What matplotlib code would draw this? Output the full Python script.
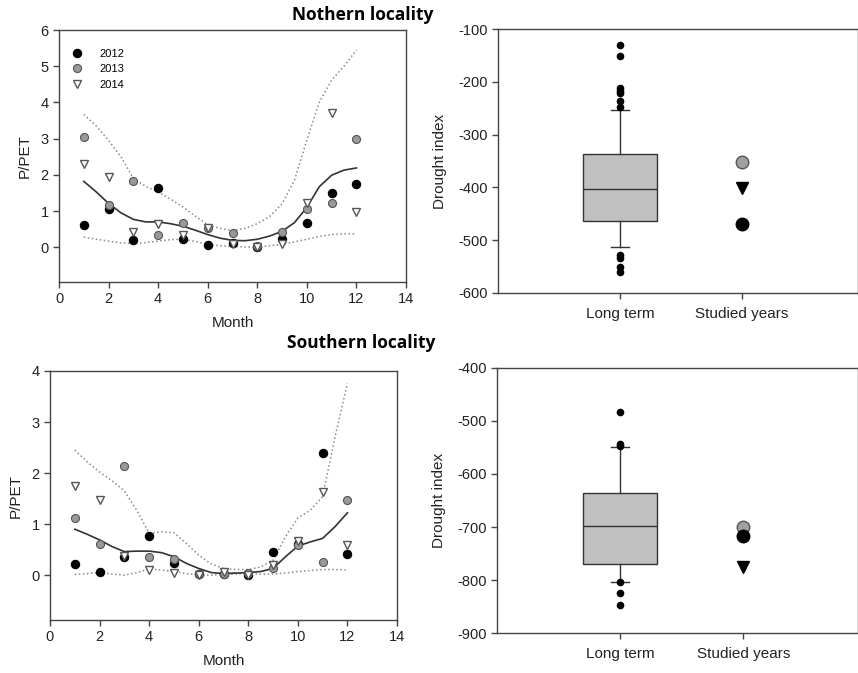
import matplotlib
matplotlib.use('Agg')
import matplotlib.pyplot as plt
import numpy as np

plt.rcParams['font.family'] = ['Liberation Sans', 'DejaVu Sans']
plt.rcParams['axes.unicode_minus'] = False

# ---- monthly P/PET, northern locality ----
months = [1, 2, 3, 4, 5, 6, 7, 8, 9, 10, 11, 12]
north_2012 = [0.61, 1.05, 0.19, 1.64, 0.23, 0.07, 0.12, 0.02, 0.24, 0.67, 1.51, 1.76]
north_2013 = [3.04, 1.16, 1.83, 0.33, 0.67, 0.53, 0.40, 0.03, 0.41, 1.07, 1.21, 2.99]
north_2014 = [2.31, 1.94, 0.41, 0.64, 0.33, 0.52, 0.09, 0.02, 0.10, 1.21, 3.71, 0.98]

# fitted curve and limits, read every half month
fit_months = [1, 1.5, 2, 2.5, 3, 3.5, 4, 4.5, 5, 5.5, 6, 6.5,
              7, 7.5, 8, 8.5, 9, 9.5, 10, 10.5, 11, 11.5, 12]
north_mean = [1.82, 1.53, 1.21, 0.95, 0.77, 0.70, 0.70, 0.65, 0.58, 0.47, 0.35, 0.25,
              0.19, 0.18, 0.22, 0.31, 0.44, 0.68, 1.10, 1.67, 1.99, 2.13, 2.19]
north_upper = [3.67, 3.35, 2.95, 2.50, 1.90, 1.68, 1.53, 1.33, 1.11, 0.86, 0.62, 0.52,
               0.46, 0.52, 0.65, 0.85, 1.20, 1.85, 2.96, 4.00, 4.62, 5.00, 5.45]
north_lower = [0.28, 0.22, 0.17, 0.12, 0.10, 0.13, 0.17, 0.21, 0.22, 0.16, 0.08, 0.04,
               0.02, 0.01, 0.00, 0.04, 0.08, 0.15, 0.22, 0.30, 0.35, 0.37, 0.37]

# ---- monthly P/PET, southern locality ----
south_2012 = [0.22, 0.07, 0.36, 0.76, 0.23, 0.02, 0.02, 0.00, 0.46, 0.60, 2.40, 0.41]
south_2013 = [1.11, 0.60, 2.14, 0.35, 0.32, 0.02, 0.02, 0.04, 0.13, 0.59, 0.26, 1.47]
south_2014 = [1.75, 1.47, 0.37, 0.10, 0.05, 0.00, 0.07, 0.00, 0.20, 0.67, 1.62, 0.59]

south_mean = [0.90, 0.80, 0.69, 0.56, 0.46, 0.47, 0.47, 0.44, 0.36, 0.23, 0.13, 0.05,
              0.03, 0.04, 0.05, 0.07, 0.13, 0.36, 0.57, 0.65, 0.72, 0.95, 1.22]
south_upper = [2.45, 2.22, 2.02, 1.85, 1.65, 1.27, 0.82, 0.85, 0.83, 0.62, 0.39, 0.22,
               0.13, 0.11, 0.11, 0.16, 0.29, 0.75, 1.12, 1.27, 1.54, 2.71, 3.76]
south_lower = [0.01, 0.03, 0.05, 0.02, 0.00, 0.05, 0.12, 0.10, 0.07, 0.03, 0.00, 0.00,
               0.01, 0.02, 0.03, 0.02, 0.02, 0.04, 0.07, 0.09, 0.11, 0.11, 0.10]

# ---- drought index, long term box + studied years ----
categories = ['Long term', 'Studied years']
north_box = dict(q1=-463, med=-403, q3=-337, whislo=-513, whishi=-253)
north_fliers = [-130, -151, -212, -217, -220, -237, -248, -528, -535, -551, -561]
north_years = {'2012': -470, '2013': -351, '2014': -402}

south_box = dict(q1=-770, med=-698, q3=-635, whislo=-803, whishi=-550)
south_fliers = [-483, -544, -547, -803, -824, -847]
south_years = {'2012': -717, '2013': -699, '2014': -776}

W, H = 858, 673
fig = plt.figure(figsize=(W / 100, H / 100), dpi=100)


def rect(l, t, r, b):
    return [l / W, 1 - b / H, (r - l) / W, (b - t) / H]


edge = '#444444'


def style(ax):
    for s in ax.spines.values():
        s.set_color(edge)
        s.set_linewidth(1.0)
    ax.tick_params(direction='out', length=4, width=1, color=edge,
                   labelsize=10.5, labelcolor='#222222')


def month_panel(ax, y12, y13, y14, mean, upper, lower, ylow, ytop):
    ax.plot(fit_months, upper, ls=':', color='#8a8a8a', lw=1.1)
    ax.plot(fit_months, lower, ls=':', color='#8a8a8a', lw=1.1)
    ax.plot(fit_months, mean, ls='-', color='#333333', lw=1.2)
    ax.plot(months, y12, 'o', ms=5.8, mfc='black', mec='black', ls='none', label='2012')
    ax.plot(months, y13, 'o', ms=5.8, mfc='#999999', mec='#555555', mew=0.8, ls='none', label='2013')
    ax.plot(months, y14, 'v', ms=6, mfc='white', mec='#555555', mew=1.0, ls='none', label='2014')
    ax.set_xlim(0, 14)
    ax.set_xticks(range(0, 15, 2))
    ax.set_ylim(ylow, ytop)
    ax.set_yticks(range(0, ytop + 1))
    ax.set_xlabel('Month', fontsize=11, color='#222222', labelpad=7)
    ax.set_ylabel('P/PET', fontsize=11, color='#222222', labelpad=6)
    style(ax)


def box_panel(ax, box, fliers, years, ylow, ytop, xright):
    stats = [dict(box, fliers=fliers, label=categories[0])]
    ax.bxp(stats, positions=[1], widths=0.6, capwidths=0.15, patch_artist=True,
           boxprops=dict(facecolor='#c0c0c0', edgecolor='#333333', lw=1.0),
           medianprops=dict(color='#333333', lw=1.0),
           whiskerprops=dict(color='#333333', lw=1.0),
           capprops=dict(color='#333333', lw=1.0),
           flierprops=dict(marker='o', ms=4.5, mfc='black', mec='black'))
    ax.plot([2], [years['2013']], 'o', ms=9, mfc='#a0a0a0', mec='#555555', mew=1.0)
    ax.plot([2], [years['2014']], 'v', ms=9, mfc='black', mec='black')
    ax.plot([2], [years['2012']], 'o', ms=9, mfc='black', mec='black')
    ax.set_xlim(0, xright)
    ax.set_xticks([1, 2])
    ax.set_xticklabels(categories)
    ax.set_ylim(ylow, ytop)
    ax.set_yticks(range(ylow, ytop + 1, 100))
    ax.set_ylabel('Drought index', fontsize=11, color='#222222', labelpad=8)
    style(ax)
    ax.tick_params(axis='x', labelsize=11, pad=6)


ax1 = fig.add_axes(rect(59, 30, 406, 282))
month_panel(ax1, north_2012, north_2013, north_2014,
            north_mean, north_upper, north_lower, -0.96, 6)
ax1.legend(loc='upper left', bbox_to_anchor=(0.0, 0.965),
           frameon=False, fontsize=8, handlelength=1.5, handletextpad=1.2)

ax2 = fig.add_axes(rect(498, 29.3, 858, 292.7))
box_panel(ax2, north_box, north_fliers, north_years, -600, -100, 2.95)

ax3 = fig.add_axes(rect(50, 371, 397, 620))
month_panel(ax3, south_2012, south_2013, south_2014,
            south_mean, south_upper, south_lower, -0.88, 4)

ax4 = fig.add_axes(rect(497, 367.7, 858, 633.3))
box_panel(ax4, south_box, south_fliers, south_years, -900, -400, 2.93)

fig.text(363 / W, 1 - 15 / H, 'Nothern locality', ha='center', va='center',
         fontsize=12.5, fontweight='bold', family='Open Sans')
fig.text(361 / W, 1 - 343 / H, 'Southern locality', ha='center', va='center',
         fontsize=12.5, fontweight='bold', family='Open Sans')

fig.savefig('out.png', dpi=100)
